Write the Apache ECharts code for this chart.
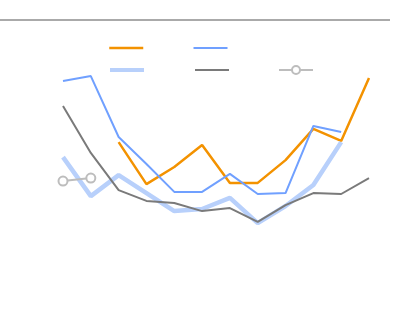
<!DOCTYPE html>
<html>
<head>
<meta charset="utf-8">
<script src="https://cdn.jsdelivr.net/npm/echarts@6/dist/echarts.min.js"></script>
<style>html,body{margin:0;padding:0;background:#fff}#c{width:400px;height:326px}</style>
</head>
<body>
<div id="c"></div>
<script>
var categories = ['1','2','3','4','5','6','7','8','9','10','11','12'];
var seriesNames = ['A','B','C','D','E'];
var orangeVals = [null, null, 59.3, 45.3, 51, 58.3, 45.7, 45.7, 53.3, 63.7, 59.7, 80.7];
var blueVals = [79.7, 81.3, 61, 52, 42.7, 42.7, 48.7, 42, 42.3, 64.7, 62.7, null];
var lightBlueVals = [54.3, 41.3, 48.3, 42.3, 36.3, 37, 40.7, 32.3, 38, 45, 59.3, null];
var greyVals = [71.3, 55.7, 43.3, 39.7, 39, 36.3, 37.3, 32.7, 38.3, 42.3, 42, 47.3];
var circleVals = [46.3, 47.3, null, null, null, null, null, null, null, null, null, null];

var hideSym = {opacity: 0};
var legendBase = {
  orient: 'horizontal', left: 103,
  itemWidth: 34, itemGap: 48,
  formatter: function () { return ''; },
  textStyle: {color: 'rgba(0,0,0,0)', fontSize: 12},
  selectedMode: false
};
var chart = echarts.init(document.getElementById('c'), null, {renderer: 'canvas'});
chart.setOption({
  animation: false,
  backgroundColor: '#fff',
  graphic: [{
    type: 'line', shape: {x1: 0, y1: 20, x2: 390, y2: 20},
    style: {stroke: '#aaaaaa', lineWidth: 2}
  }],
  legend: [
    Object.assign({}, legendBase, {
      top: 36, itemHeight: 14,
      data: [
        {name: seriesNames[0], itemStyle: hideSym, lineStyle: {width: 2.5}},
        {name: seriesNames[1], itemStyle: hideSym, lineStyle: {width: 2}}
      ]
    }),
    Object.assign({}, legendBase, {
      top: 60, itemHeight: 10,
      data: [
        {name: seriesNames[2], itemStyle: hideSym, lineStyle: {width: 4}},
        {name: seriesNames[3], itemStyle: hideSym, lineStyle: {width: 2}},
        {name: seriesNames[4], lineStyle: {width: 2}}
      ]
    })
  ],
  grid: {left: 63, width: 306, top: 20, height: 300},
  xAxis: {type: 'category', data: categories, boundaryGap: false, show: false},
  yAxis: {type: 'value', min: 0, max: 100, show: false},
  series: [
    {name: seriesNames[0], type: 'line', data: orangeVals, symbol: 'none', lineStyle: {color: '#f39200', width: 2.5}, itemStyle: {color: '#f39200'}},
    {name: seriesNames[1], type: 'line', data: blueVals, symbol: 'none', lineStyle: {color: '#70a0ff', width: 2}, itemStyle: {color: '#70a0ff'}},
    {name: seriesNames[2], type: 'line', data: lightBlueVals, symbol: 'none', lineStyle: {color: '#b8d0fb', width: 4.5}, itemStyle: {color: '#b8d0fb'}},
    {name: seriesNames[3], type: 'line', data: greyVals, symbol: 'none', lineStyle: {color: '#7a7a7a', width: 2}, itemStyle: {color: '#7a7a7a'}},
    {name: seriesNames[4], type: 'line', data: circleVals, symbol: 'emptyCircle', symbolSize: 9, lineStyle: {color: '#bdbdbd', width: 2}, itemStyle: {color: '#bdbdbd', borderWidth: 1.5}}
  ]
});
</script>
</body>
</html>
